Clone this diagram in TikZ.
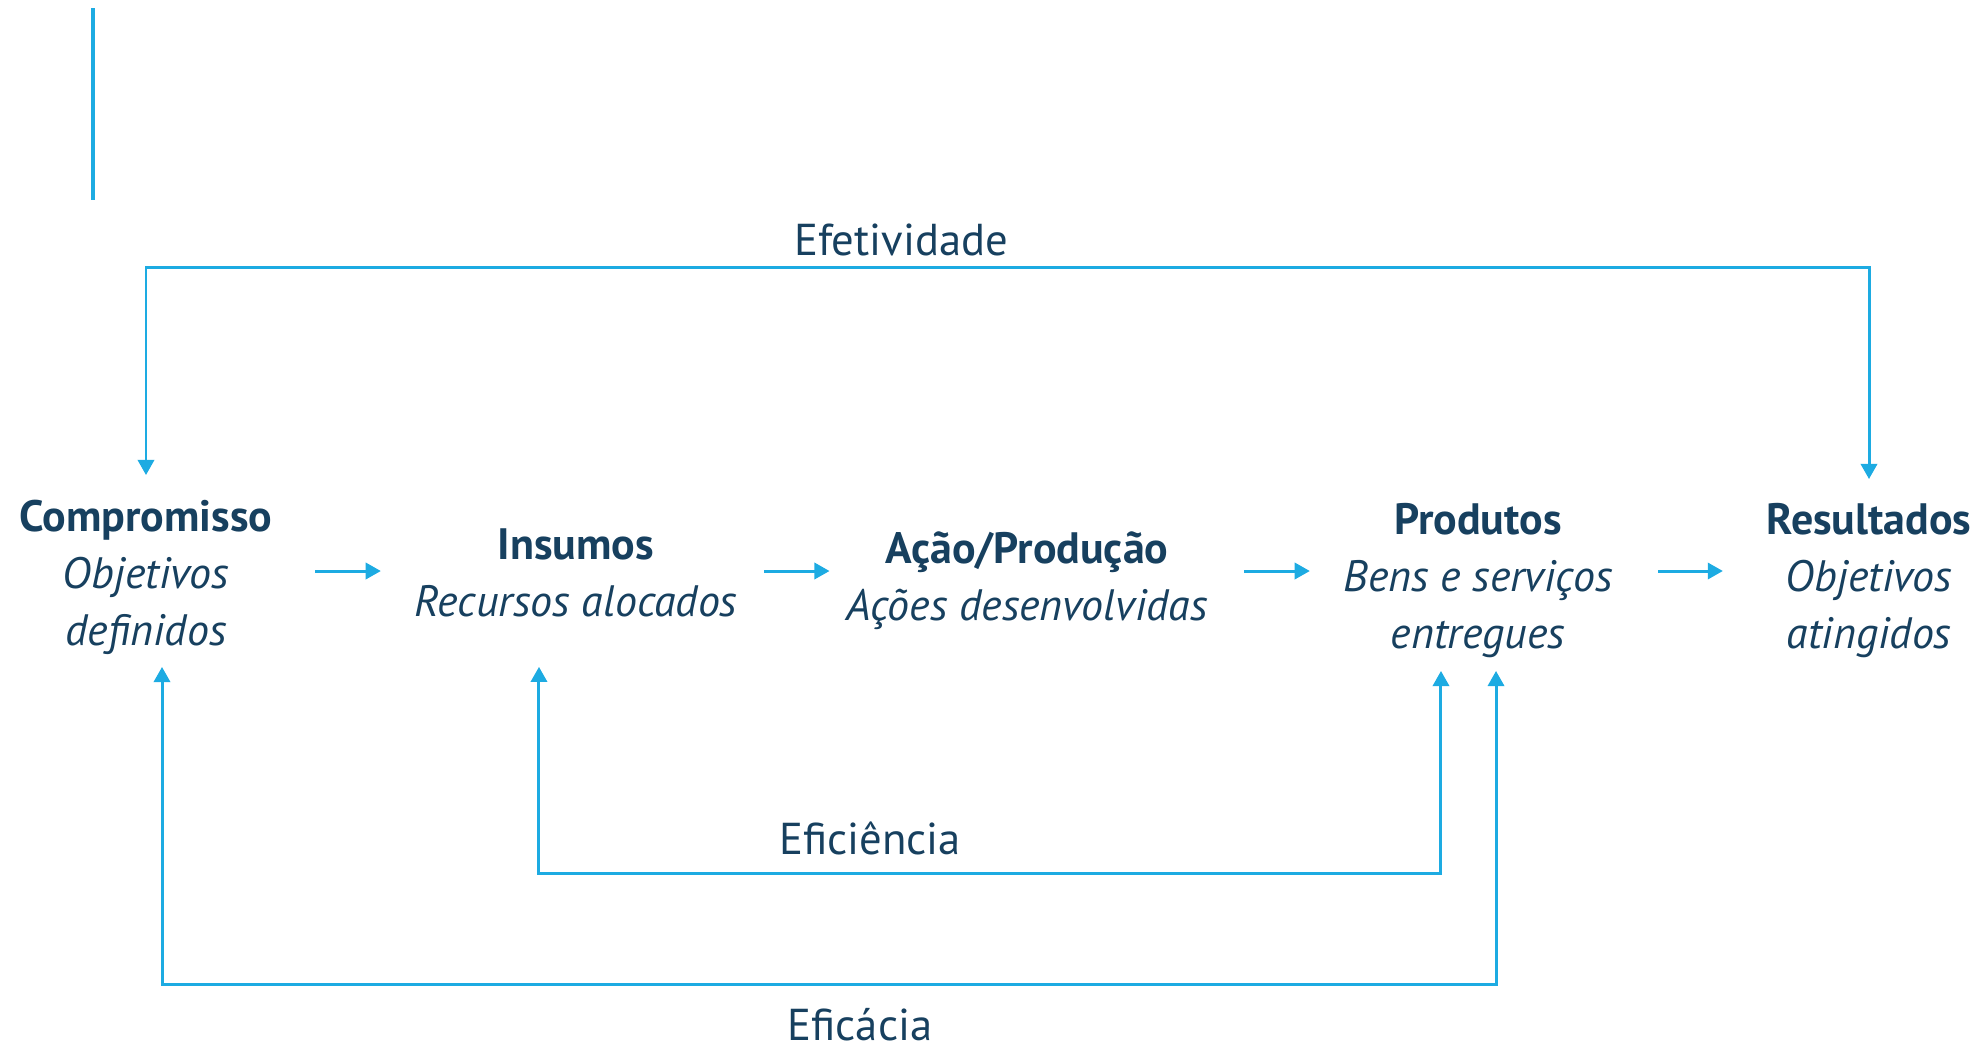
\documentclass[tikz,border=0pt]{standalone}
\usepackage{fontspec}
\setmainfont{PT Sans}
\usetikzlibrary{arrows.meta,calc}
\definecolor{linha}{HTML}{1DABE2}
\definecolor{texto}{HTML}{17405F}
\tikzstyle{etapa}=[text=texto, align=center, inner sep=0pt, font=\fontsize{12.5}{16.2}\selectfont\itshape]
\tikzstyle{rotulo}=[text=texto, inner sep=0pt, font=\fontsize{12.7}{15}\selectfont]
\tikzstyle{fluxo}=[draw=linha, line width=0.85pt, -{Triangle[width=4.6pt,length=4.3pt]}]
\tikzstyle{laco}=[draw=linha, line width=0.85pt, {Triangle[width=4.6pt,length=4.3pt]}-{Triangle[width=4.6pt,length=4.3pt]}]
\newcommand{\bloco}[4]{
	\node[etapa] (#1) at #2 {{\upshape\bfseries #3}\\#4};
}

\begin{document}
\begin{tikzpicture}[x=0.01cm, y=-0.01cm]
\useasboundingbox (0,0) rectangle (1984,1048);
%
\draw[linha, line width=1.2pt] (93,8) -- (93,200);
%
	\bloco{comp}{(146,577)}{Compromisso}{Objetivos\\definidos}
	\bloco{ins}{(576,573)}{Insumos}{Recursos alocados}
	\bloco{acao}{(1027,581)}{Ação/Produção}{Ações desenvolvidas}
	\bloco{prod}{(1478,581)}{Produtos}{Bens e serviços\\entregues}
	\bloco{res}{(1869,581)}{Resultados}{Objetivos\\atingidos}
%
	\coordinate (eixo) at (0,571);
	\coordinate (topo) at (0,267);
	\coordinate (baixo) at (0,873);
	\coordinate (fundo) at (0,984);
%
	\draw[fluxo, shorten <=0.42cm, shorten >=0.33cm] (comp.east |- eixo) -- (ins.west |- eixo);
	\draw[fluxo, shorten <=0.26cm, shorten >=0.16cm] (ins.east |- eixo) -- (acao.west |- eixo);
	\draw[fluxo, shorten <=0.36cm, shorten >=0.33cm] (acao.east |- eixo) -- (prod.west |- eixo);
	\draw[fluxo, shorten <=0.45cm, shorten >=0.43cm] (prod.east |- eixo) -- (res.west |- eixo);
%
	\draw[laco, shorten <=0.24cm, shorten >=0.24cm] (comp.north) -- (comp.north |- topo) -| (res.north);
	\draw[laco, shorten <=0.49cm, shorten >=0.12cm] ([xshift=-0.37cm]ins.south) -- ([xshift=-0.37cm]ins.south |- baixo) -| ([xshift=-0.37cm]prod.south);
	\draw[laco, shorten <=0.12cm, shorten >=0.12cm] ([xshift=0.16cm]comp.south) -- ([xshift=0.16cm]comp.south |- fundo) -| ([xshift=0.18cm]prod.south);
%
	\node[rotulo] (efet) at (901,240) {Efetividade};
	\node[rotulo] (efic) at (870,838) {Eficiência};
	\node[rotulo] (eficacia) at (860,1025) {Eficácia};
\end{tikzpicture}
\end{document}
